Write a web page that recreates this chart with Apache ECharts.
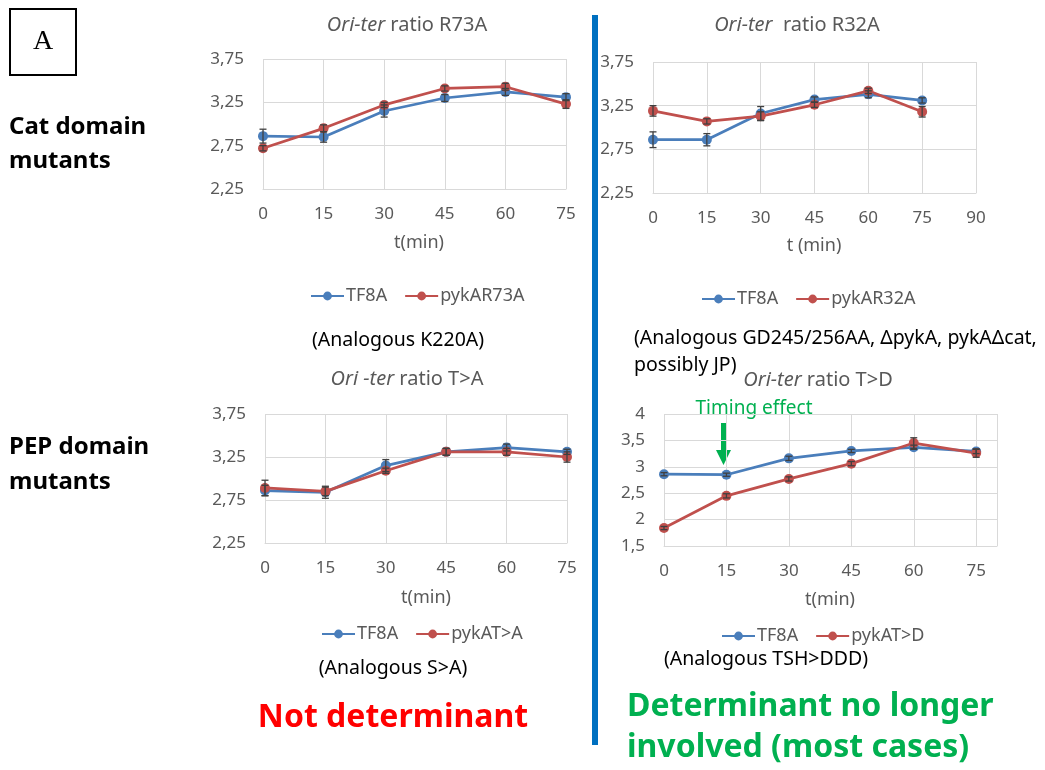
<!DOCTYPE html>
<html><head><meta charset="utf-8">
<script src="https://cdn.jsdelivr.net/npm/echarts@6/dist/echarts.min.js"></script>
<style>html,body{margin:0;padding:0;background:#fff}#c{width:1045px;height:770px}</style>
</head><body><div id="c"></div>
<script>
// ---- data ----
const times = [0, 15, 30, 45, 60, 75];

const r73aTF8A = [2.86, 2.85, 3.15, 3.30, 3.37, 3.31];
const r73aMut  = [2.72, 2.95, 3.22, 3.41, 3.43, 3.23];
const r73aTF8AErr = [0.08, 0.06, 0.07, 0.04, 0.04, 0.04];
const r73aMutErr  = [0.03, 0.04, 0.03, 0.03, 0.04, 0.05];

const r32aTF8A = [2.86, 2.86, 3.16, 3.32, 3.38, 3.31];
const r32aMut  = [3.19, 3.07, 3.13, 3.26, 3.42, 3.18];
const r32aTF8AErr = [0.09, 0.07, 0.08, 0.03, 0.04, 0.03];
const r32aMutErr  = [0.06, 0.03, 0.05, 0.03, 0.03, 0.06];

const taTF8A = [2.86, 2.84, 3.15, 3.31, 3.36, 3.31];
const taMut  = [2.89, 2.85, 3.09, 3.31, 3.31, 3.25];
const taTF8AErr = [0.06, 0.07, 0.07, 0.04, 0.04, 0.03];
const taMutErr  = [0.09, 0.05, 0.03, 0.04, 0.04, 0.06];

const tdTF8A = [2.86, 2.85, 3.16, 3.30, 3.37, 3.29];
const tdMut  = [1.84, 2.45, 2.77, 3.06, 3.45, 3.26];
const tdTF8AErr = [0.03, 0.03, 0.04, 0.03, 0.04, 0.04];
const tdMutErr  = [0.03, 0.04, 0.04, 0.04, 0.10, 0.08];

const seriesNames = ['TF8A', 'pykAR73A', 'pykAR32A', 'pykAT>A', 'pykAT>D'];
const yTicks1 = [2.25, 2.75, 3.25, 3.75];
const yTicks4 = [1.5, 2, 2.5, 3, 3.5, 4];

// ---- styling/layout ----
const FONT = '"Noto Sans", sans-serif';
const GRAY = '#595959';
const GRID = '#d9d9d9';
const BLUE = '#4a7ebb';
const RED = '#c0504d';

const charts = [
  {grid:{left:263, top:59, width:303, height:130}, xmax:75, y:yTicks1, a:r73aTF8A, ae:r73aTF8AErr, b:r73aMut, be:r73aMutErr, name:seriesNames[1], legendLeft:305, legendY:292},
  {grid:{left:653, top:62, width:323, height:131}, xmax:90, y:yTicks1, a:r32aTF8A, ae:r32aTF8AErr, b:r32aMut, be:r32aMutErr, name:seriesNames[2], legendLeft:696, legendY:295},
  {grid:{left:265, top:414, width:302, height:129}, xmax:75, y:yTicks1, a:taTF8A, ae:taTF8AErr, b:taMut, be:taMutErr, name:seriesNames[3], legendLeft:316, legendY:630},
  {grid:{left:664, top:414, width:333, height:132}, xmax:80, y:yTicks4, a:tdTF8A, ae:tdTF8AErr, b:tdMut, be:tdMutErr, name:seriesNames[4], legendLeft:716, legendY:632}
];

function errRender(params, api) {
  const x = api.value(0), y = api.value(1), e = api.value(2);
  const t = api.coord([x, y + e]);
  const b = api.coord([x, y - e]);
  const w = 3.5;
  const st = {stroke:'#404040', lineWidth:1.3};
  return {type:'group', children:[
    {type:'line', shape:{x1:t[0], y1:t[1], x2:b[0], y2:b[1]}, style:st},
    {type:'line', shape:{x1:t[0]-w, y1:t[1], x2:t[0]+w, y2:t[1]}, style:st},
    {type:'line', shape:{x1:b[0]-w, y1:b[1], x2:b[0]+w, y2:b[1]}, style:st}
  ]};
}

const grids = [], xAxes = [], yAxes = [], series = [], legends = [];
charts.forEach((c, i) => {
  grids.push(c.grid);
  xAxes.push({type:'value', gridIndex:i, min:0, max:c.xmax, interval:15,
    axisLine:{show:true, lineStyle:{color:GRID, width:1}}, axisTick:{show:false},
    splitLine:{show:true, lineStyle:{color:GRID, width:1}},
    axisLabel:{color:GRAY, fontSize:17, fontFamily:FONT, margin:17,
      formatter: v => (v % 15 === 0 ? String(v) : '')}});
  const ymin = c.y[0], ymax = c.y[c.y.length-1];
  yAxes.push({type:'value', gridIndex:i, min:ymin, max:ymax, interval:c.y[1]-c.y[0],
    axisLine:{show:false}, axisTick:{show:false},
    splitLine:{show:true, lineStyle:{color:GRID, width:1}},
    axisLabel:{color:GRAY, fontSize:17, fontFamily:FONT, margin:19,
      formatter: v => String(+v.toFixed(2)).replace('.', ',')}});
  const mk = (name, vals, color) => ({type:'line', name, xAxisIndex:i, yAxisIndex:i,
    data: times.map((t, k) => [t, vals[k]]), symbol:'circle', symbolSize:10,
    lineStyle:{color, width:2.75}, itemStyle:{color}, z:2, animation:false});
  series.push(mk(seriesNames[0], c.a, BLUE));
  series.push(mk(c.name, c.b, RED));
  series.push({type:'custom', xAxisIndex:i, yAxisIndex:i, renderItem:errRender, z:3, silent:true,
    encode:{x:0, y:1}, data: times.map((t, k) => [t, c.a[k], c.ae[k]]), animation:false});
  series.push({type:'custom', xAxisIndex:i, yAxisIndex:i, renderItem:errRender, z:3, silent:true,
    encode:{x:0, y:1}, data: times.map((t, k) => [t, c.b[k], c.be[k]]), animation:false});
  legends.push({data:[seriesNames[0], c.name], left:c.legendLeft, top:c.legendY - 10,
    itemWidth:33, itemHeight:11, itemGap:17, selectedMode:false,
    textStyle:{color:GRAY, fontSize:18, fontFamily:FONT, padding:[0,0,0,-3]}});
});

const txt = (text, x, y, opts) => ({type:'text', x, y, silent:true,
  style: Object.assign({text, fill:'#000', font:'19.5px ' + FONT, textAlign:'center', textVerticalAlign:'middle'}, opts || {})});
const titleRich = {i:{fontStyle:'italic', fontSize:20, fontFamily:FONT, fill:GRAY, color:GRAY}};
const titleOpts = {fill:GRAY, font:'20px ' + FONT, rich:titleRich};
const axName = {fill:GRAY, font:'18px ' + FONT};

const graphics = [
  {type:'rect', shape:{x:10, y:9, width:66, height:66}, style:{fill:'none', stroke:'#000', lineWidth:2}, silent:true},
  txt('A', 43, 42, {font:'28px "Liberation Serif", serif'}),
  txt('Cat domain\nmutants', 9, 110, {font:'bold 24px ' + FONT, textAlign:'left', textVerticalAlign:'top', lineHeight:34}),
  txt('PEP domain\nmutants', 9, 430, {font:'bold 24px ' + FONT, textAlign:'left', textVerticalAlign:'top', lineHeight:35}),
  {type:'rect', shape:{x:592, y:15, width:6, height:730}, style:{fill:'#0070c0'}, silent:true},
  txt('{i|Ori-ter} ratio R73A', 407, 25, titleOpts),
  txt('{i|Ori-ter}  ratio R32A', 797, 25, titleOpts),
  txt('{i|Ori -ter} ratio T>A', 407, 379, titleOpts),
  txt('{i|Ori-ter} ratio T>D', 818, 380, titleOpts),
  txt('t(min)', 419, 243, axName),
  txt('t (min)', 814, 246, axName),
  txt('t(min)', 426, 598, axName),
  txt('t(min)', 830, 600, axName),
  txt('(Analogous K220A)', 398, 340),
  txt('(Analogous GD245/256AA, \u0394pykA, pykA\u0394cat,\npossibly JP)', 634, 325, {textAlign:'left', textVerticalAlign:'top', lineHeight:27}),
  txt('(Analogous S>A)', 393, 668),
  txt('(Analogous TSH>DDD)', 766, 659),
  txt('Timing effect', 754, 409, {fill:'#00b050', font:'19px ' + FONT}),
  {type:'polygon', silent:true, shape:{points:[[721,423],[726,423],[726,450],[731,450],[723.5,465],[716,450],[721,450]]}, style:{fill:'#00b050'}},
  txt('Not determinant', 393, 718, {fill:'#ff0000', font:'bold 32px ' + FONT}),
  txt('Determinant no longer\ninvolved (most cases)', 627, 686, {fill:'#00b050', font:'bold 32px ' + FONT, textAlign:'left', textVerticalAlign:'top', lineHeight:41})
];

const chart = echarts.init(document.getElementById('c'), null, {renderer:'canvas'});
chart.setOption({
  animation:false,
  backgroundColor:'#fff',
  grid:grids, xAxis:xAxes, yAxis:yAxes, series, legend:legends,
  graphic:graphics
});
</script></body></html>
